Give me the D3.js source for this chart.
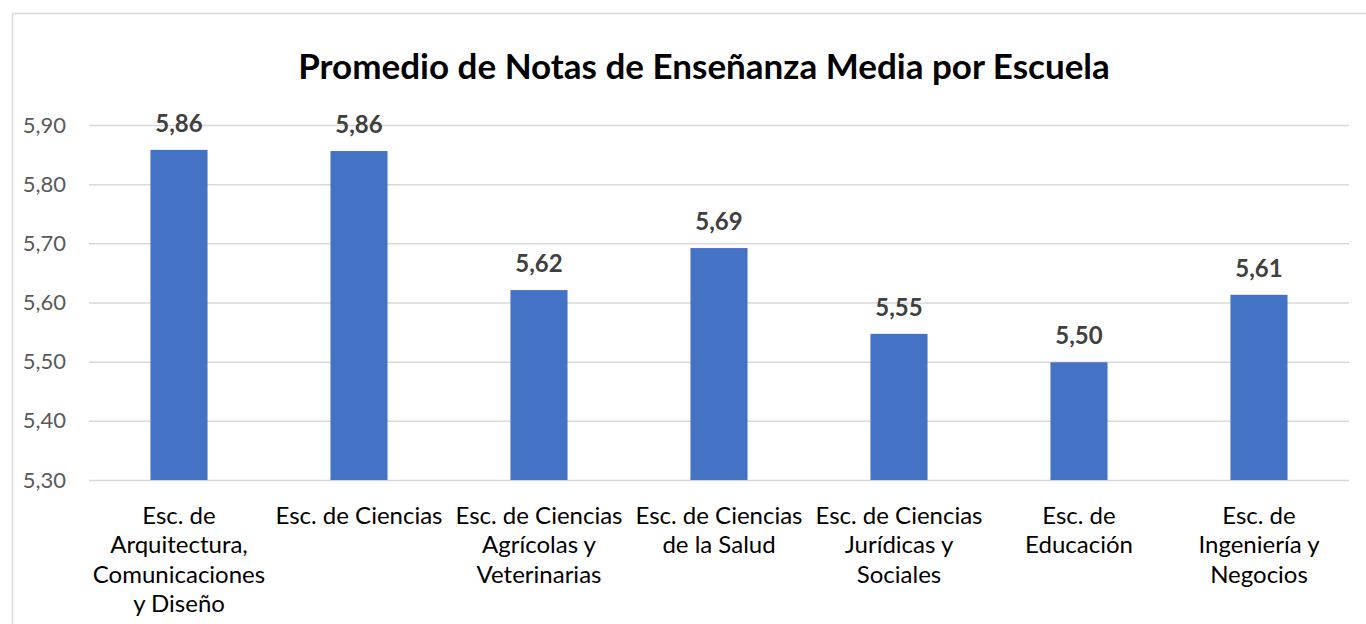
<!DOCTYPE html>
<html>
<head>
<meta charset="utf-8">
<script src="https://cdn.jsdelivr.net/npm/d3@7"></script>
<style>
  body { margin: 0; background: #fff; }
  svg { display: block; }
</style>
</head>
<body>
<svg id="chart"></svg>
<script>
const categories = [
  "Esc. de\nArquitectura,\nComunicaciones\ny Diseño",
  "Esc. de Ciencias",
  "Esc. de Ciencias\nAgrícolas y\nVeterinarias",
  "Esc. de Ciencias\nde la Salud",
  "Esc. de Ciencias\nJurídicas y\nSociales",
  "Esc. de\nEducación",
  "Esc. de\nIngeniería y\nNegocios"
];
const values = [5.858, 5.856, 5.621, 5.692, 5.547, 5.499, 5.613];
const yTicks = [5.3, 5.4, 5.5, 5.6, 5.7, 5.8, 5.9];
const title = "Promedio de Notas de Enseñanza Media por Escuela";

const width = 1366;
const height = 624;
const font = "Lato, 'Open Sans', sans-serif";
const fmt = (v) => d3.format(".2f")(v).replace(".", ",");

const svg = d3.select("#chart")
  .attr("width", width)
  .attr("height", height)
  .style("font-family", font);

// chart area border
svg.append("rect")
  .attr("x", 12.5)
  .attr("y", 13.5)
  .attr("width", 1400)
  .attr("height", 700)
  .attr("fill", "none")
  .attr("stroke", "#d9d9d9")
  .attr("stroke-width", 1.5);

const plotL = 89, plotR = 1349, plotT = 125, plotB = 480;

// scales
const x = d3.scaleBand()
  .domain(d3.range(categories.length))
  .range([plotL, plotR])
  .padding(0);

const y = d3.scaleLinear()
  .domain([5.3, 5.9])
  .range([plotB, plotT]);

const barW = x.bandwidth() * 0.317;

// gridlines + y labels
const yAxis = d3.axisLeft(y)
  .tickValues(yTicks)
  .tickSize(-(plotR - plotL))
  .tickPadding(23)
  .tickFormat(fmt);

const gy = svg.append("g")
  .attr("transform", "translate(" + plotL + ",0)")
  .call(yAxis);
gy.select(".domain").remove();
gy.selectAll(".tick line")
  .attr("stroke", "#d9d9d9")
  .attr("stroke-width", 1.5);
gy.selectAll(".tick text")
  .attr("fill", "#595959")
  .style("font-size", "22px")
  .style("font-family", font);

// bars
svg.selectAll("rect.bar")
  .data(values)
  .enter()
  .append("rect")
  .attr("class", "bar")
  .attr("x", (d, i) => x(i) + (x.bandwidth() - barW) / 2)
  .attr("y", (d) => y(d))
  .attr("width", barW)
  .attr("height", (d) => y(5.3) - y(d))
  .attr("fill", "#4472c4");

// value labels
svg.selectAll("text.val")
  .data(values)
  .enter()
  .append("text")
  .attr("class", "val")
  .attr("x", (d, i) => x(i) + x.bandwidth() / 2)
  .attr("y", (d) => y(d) - 18)
  .attr("text-anchor", "middle")
  .attr("fill", "#404040")
  .style("font-size", "24px")
  .style("font-weight", "bold")
  .text((d) => fmt(d));

// category labels
const xAxis = d3.axisBottom(x)
  .tickSize(0)
  .tickFormat("");

const gx = svg.append("g")
  .attr("transform", "translate(0," + plotB + ")")
  .call(xAxis);
gx.select(".domain").remove();

gx.selectAll(".tick")
  .append("text")
  .attr("text-anchor", "middle")
  .attr("fill", "#000")
  .style("font-size", "24px")
  .style("font-family", font)
  .each(function (i) {
    const lines = categories[i].split("\n");
    d3.select(this).selectAll("tspan")
      .data(lines)
      .enter()
      .append("tspan")
      .attr("x", 0)
      .attr("y", (d, k) => 44 + k * 29.3)
      .text((d) => d);
  });

// title
svg.append("text")
  .attr("x", 704)
  .attr("y", 79)
  .attr("text-anchor", "middle")
  .attr("fill", "#000")
  .style("font-size", "35px")
  .style("font-weight", "bold")
  .text(title);
</script>
</body>
</html>
